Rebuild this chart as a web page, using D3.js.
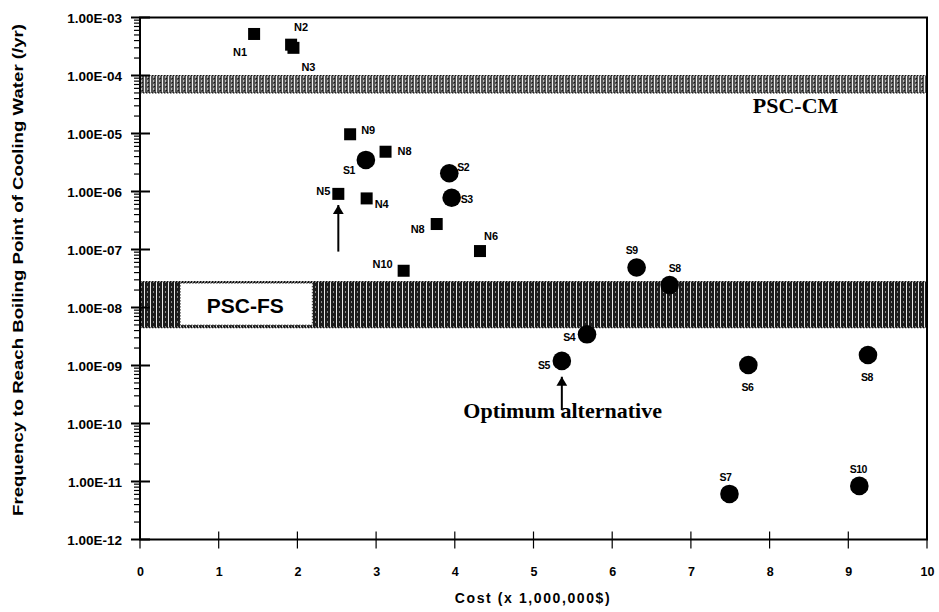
<!DOCTYPE html>
<html>
<head>
<meta charset="utf-8">
<script src="https://cdn.jsdelivr.net/npm/d3@7"></script>
<style>
  body { margin: 0; background: #fff; }
  text { font-family: "Liberation Sans", Arial, sans-serif; font-weight: bold; }
</style>
</head>
<body>
<script>
// Data: cost (million $) vs frequency (/yr)
var squareNames = ["N1", "N2", "N3", "N9", "N8", "N5", "N4", "N8", "N6", "N10"];
var squareCost  = [1.45, 1.92, 1.95, 2.67, 3.12, 2.52, 2.88, 3.77, 4.32, 3.35];
var squareFreq  = [5.2e-4, 3.4e-4, 3.0e-4, 9.7e-6, 4.85e-6, 9.1e-7, 7.6e-7, 2.75e-7, 9.4e-8, 4.3e-8];

var circleNames = ["S1", "S2", "S3", "S9", "S8", "S4", "S5", "S6", "S8", "S7", "S10"];
var circleCost  = [2.87, 3.93, 3.96, 6.31, 6.73, 5.68, 5.36, 7.73, 9.25, 7.49, 9.14];
var circleFreq  = [3.5e-6, 2.06e-6, 7.8e-7, 4.9e-8, 2.44e-8, 3.45e-9, 1.2e-9, 1.02e-9, 1.52e-9, 6.1e-12, 8.4e-12];

// criteria bands [low, high]
var bandCM = [5e-5, 1e-4];
var bandFS = [4.5e-9, 2.8e-8];

var xTicks = [0, 1, 2, 3, 4, 5, 6, 7, 8, 9, 10];
var yTicks = [1e-3, 1e-4, 1e-5, 1e-6, 1e-7, 1e-8, 1e-9, 1e-10, 1e-11, 1e-12];

// label placement for each point, in the order of the arrays above: [dx, dy, anchor]
var squareLabelPos = [[-14, 22, "middle"], [10, -14, "middle"], [15, 23, "middle"], [11, 0, "start"],
  [12, 3, "start"], [-8, 1, "end"], [8, 10, "start"], [-12, 9, "end"], [4, -11, "start"], [-11, -3, "end"]];
var circleLabelPos = [[-11, 14, "end"], [8, -2, "start"], [9, 5, "start"], [-5, -13, "middle"],
  [5, -13, "middle"], [-12, 7, "end"], [-12, 8, "end"], [-1, 26, "middle"], [-1, 26, "middle"],
  [-4, -13, "middle"], [-1, -13, "middle"]];

var width = 939, height = 612;
var svg = d3.select("body").append("svg").attr("width", width).attr("height", height);

var x = d3.scaleLinear().domain([0, 10]).range([140, 927]);
var y = d3.scaleLog().domain([1e-12, 1e-3]).range([539.5, 17.5]);

// patterns for the shaded bands
var defs = svg.append("defs");
var pCM = defs.append("pattern").attr("id", "hatchCM").attr("patternUnits", "userSpaceOnUse")
  .attr("width", 6).attr("height", 4);
pCM.append("rect").attr("width", 6).attr("height", 4).attr("fill", "#555");
pCM.append("rect").attr("x", 0).attr("width", 1).attr("height", 4).attr("fill", "#eee");
pCM.append("rect").attr("x", 3).attr("width", 1).attr("height", 2).attr("fill", "#bbb");
pCM.append("rect").attr("x", 4).attr("y", 2).attr("width", 1).attr("height", 1).attr("fill", "#111");

var pFS = defs.append("pattern").attr("id", "hatchFS").attr("patternUnits", "userSpaceOnUse")
  .attr("width", 6).attr("height", 5);
pFS.append("rect").attr("width", 6).attr("height", 5).attr("fill", "#1c1c1c");
pFS.append("rect").attr("x", 0).attr("width", 1).attr("height", 5).attr("fill", "#e8e8e8");
pFS.append("rect").attr("x", 3).attr("y", 1).attr("width", 1).attr("height", 2).attr("fill", "#8a8a8a");

function band(range, fillId) {
  svg.append("rect")
    .attr("x", x(0) + 1).attr("y", y(range[1]))
    .attr("width", x(10) - x(0) - 2).attr("height", y(range[0]) - y(range[1]))
    .attr("fill", "url(#" + fillId + ")");
  [range[0], range[1]].forEach(function(v) {
    svg.append("line").attr("x1", x(0)).attr("x2", x(10)).attr("y1", y(v)).attr("y2", y(v))
      .attr("stroke", "#111").attr("stroke-width", 1.2).attr("stroke-dasharray", "1.5,1.5");
  });
}
band(bandCM, "hatchCM");
band(bandFS, "hatchFS");

// PSC-FS white label box
var boxX0 = x(0.51), boxX1 = x(2.19);
svg.append("rect").attr("x", boxX0).attr("y", y(bandFS[1]) + 1.5)
  .attr("width", boxX1 - boxX0).attr("height", y(bandFS[0]) - y(bandFS[1]) - 4)
  .attr("fill", "#fff").attr("stroke", "#333").attr("stroke-width", 1).attr("stroke-dasharray", "1.5,1.5");
svg.append("text").attr("x", (boxX0 + boxX1) / 2 - 1).attr("y", y(1.1e-8) + 8)
  .attr("text-anchor", "middle").style("font-size", "21px").text("PSC-FS");

svg.append("text").attr("x", x(8.33)).attr("y", y(2.25e-5))
  .attr("text-anchor", "middle")
  .style("font-family", "'Liberation Serif', 'Times New Roman', serif")
  .style("font-size", "22px").text("PSC-CM");

svg.append("text").attr("x", x(5.37)).attr("y", y(1.3e-10) + 1)
  .attr("text-anchor", "middle")
  .style("font-family", "'Liberation Serif', 'Times New Roman', serif")
  .style("font-size", "22px").text("Optimum alternative");

// arrows
defs.append("marker").attr("id", "head").attr("viewBox", "0 0 10 20")
  .attr("refX", 10).attr("refY", 10).attr("markerWidth", 9).attr("markerHeight", 18)
  .attr("markerUnits", "userSpaceOnUse").attr("orient", "auto")
  .append("path").attr("d", "M0,4 L10,10 L0,16 Z").attr("fill", "#000");

var arrowCost = [2.52, 5.36];
var arrowFrom = [9.2e-8, 1.7e-10];
var arrowTo   = [5.85e-7, 6.4e-10];
arrowCost.forEach(function(c, i) {
  svg.append("line").attr("x1", x(c)).attr("x2", x(c))
    .attr("y1", y(arrowFrom[i])).attr("y2", y(arrowTo[i]))
    .attr("stroke", "#000").attr("stroke-width", 2).attr("marker-end", "url(#head)");
});

// axes
var yAxis = d3.axisLeft(y).tickValues(yTicks).tickSize(0).tickPadding(18)
  .tickFormat(function(d) {
    var e = Math.round(-Math.log10(d));
    return "1.00E-" + String(e).padStart(2, "0");
  });
var gy = svg.append("g").attr("transform", "translate(" + x(0) + ",0)").call(yAxis);
gy.select(".domain").remove();
gy.selectAll("text").style("font-size", "13.5px").attr("dy", "0.35em");

var xAxis = d3.axisBottom(x).tickValues(xTicks).tickSize(0).tickPadding(28);
var gx = svg.append("g").attr("transform", "translate(0," + y(1e-12) + ")").call(xAxis);
gx.select(".domain").remove();
gx.selectAll("text").style("font-size", "12.5px");

// minor ticks on the log axis
var minors = [];
for (var k = -12; k < -3; k++) {
  for (var m = 2; m < 10; m++) minors.push(m * Math.pow(10, k));
}
svg.append("g").selectAll("line").data(minors).enter().append("line")
  .attr("x1", x(0) - 6).attr("x2", x(0)).attr("y1", function(d) { return y(d); }).attr("y2", function(d) { return y(d); })
  .attr("stroke", "#000").attr("stroke-width", 1.2);
svg.append("g").selectAll("line").data(yTicks).enter().append("line")
  .attr("x1", x(0) - 9).attr("x2", x(0) + 10).attr("y1", function(d) { return y(d); }).attr("y2", function(d) { return y(d); })
  .attr("stroke", "#000").attr("stroke-width", 2);
svg.append("g").selectAll("line").data(xTicks).enter().append("line")
  .attr("x1", function(d) { return x(d); }).attr("x2", function(d) { return x(d); })
  .attr("y1", y(1e-12) - 8).attr("y2", y(1e-12) + 9)
  .attr("stroke", "#000").attr("stroke-width", 1.2);

// frame
svg.append("path")
  .attr("d", "M" + x(0) + "," + y(1e-12) + "V" + y(1e-3) + "H" + x(10) + "V" + y(1e-12) + "Z")
  .attr("fill", "none").attr("stroke", "#000").attr("stroke-width", 2);

// points
var sq = 12;
squareCost.forEach(function(c, i) {
  var px = x(c), py = y(squareFreq[i]), lp = squareLabelPos[i];
  svg.append("rect").attr("x", px - sq / 2).attr("y", py - sq / 2).attr("width", sq).attr("height", sq).attr("fill", "#000");
  svg.append("text").attr("x", px + lp[0]).attr("y", py + lp[1]).attr("text-anchor", lp[2])
    .style("font-size", "11px").text(squareNames[i]);
});
circleCost.forEach(function(c, i) {
  var px = x(c), py = y(circleFreq[i]), lp = circleLabelPos[i];
  svg.append("circle").attr("cx", px).attr("cy", py).attr("r", 9.3).attr("fill", "#000");
  svg.append("text").attr("x", px + lp[0]).attr("y", py + lp[1]).attr("text-anchor", lp[2])
    .style("font-size", "10.5px").style("letter-spacing", "-0.5px").text(circleNames[i]);
});

// axis titles
svg.append("text").attr("transform", "translate(23," + 270 + ") rotate(-90)")
  .attr("text-anchor", "middle").style("font-size", "15px")
  .attr("textLength", 492).attr("lengthAdjust", "spacingAndGlyphs")
  .text("Frequency to Reach Boiling Point of Cooling Water (/yr)");
svg.append("text").attr("x", 533).attr("y", 603).attr("text-anchor", "middle")
  .style("font-size", "14px").style("letter-spacing", "1.6px").text("Cost (x 1,000,000$)");
</script>
</body>
</html>
